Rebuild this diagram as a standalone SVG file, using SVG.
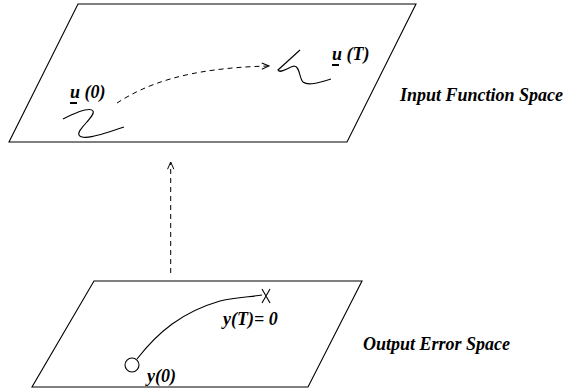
<svg xmlns="http://www.w3.org/2000/svg" width="568" height="392" viewBox="0 0 568 392">
<style>
.ln{fill:none;stroke:#000;stroke-width:1.1}
.ds{fill:none;stroke:#000;stroke-width:1;stroke-dasharray:5 4}
.t{font-family:"Liberation Serif","Times New Roman",serif;font-weight:bold;font-style:italic;font-size:18px;fill:#000}
</style>
<defs>
<marker id="ah" viewBox="0 0 10 10" refX="9" refY="5" markerWidth="9" markerHeight="9" markerUnits="userSpaceOnUse" orient="auto">
<path d="M1,1.5 L9,5 L1,8.5" fill="none" stroke="#000" stroke-width="1.1"/>
</marker>
</defs>
<rect width="568" height="392" fill="#fff"/>
<g id="input-space">
<path class="ln" d="M78,4 L416,4 L347,142 L9,142 Z"/>
<path class="ln" d="M63,119 C75,113 90,107 93,111 C96,116 76,130 79,135 C82,140 95,137 124,127"/>
<text class="t" x="70" y="98">u (0)</text>
<rect x="70" y="102" width="7" height="2" fill="#000"/>
<path class="ln" d="M300,50 L278,70 C280,74 287,68 294,66 C300,66 299,78 303,82 C308,86 318,83 331,79"/>
<text class="t" x="332" y="60">u (T)</text>
<rect x="332" y="64" width="7" height="2" fill="#000"/>
<text class="t" x="400" y="101">Input Function Space</text>
</g>
<g id="output-space">
<path class="ln" d="M94,281 L362,281 L308,387 L32,387 Z"/>
<circle class="ln" cx="132" cy="365" r="7"/>
<path class="ln" d="M137,359 C158,332 182,312 220,301 C236,297 250,297 262,295"/>
<path class="ln" d="M262,289 L270,303 M270,289 L262,303"/>
<text class="t" x="223" y="325">y(T)= 0</text>
<text class="t" x="147" y="382">y(0)</text>
<text class="t" x="363" y="350">Output Error Space</text>
</g>
<g id="connectors">
<path class="ds" d="M117,103 C145,85 185,68 269,66" marker-end="url(#ah)"/>
<path class="ds" d="M170.7,273 L170.7,162" marker-end="url(#ah)"/>
</g>
</svg>
